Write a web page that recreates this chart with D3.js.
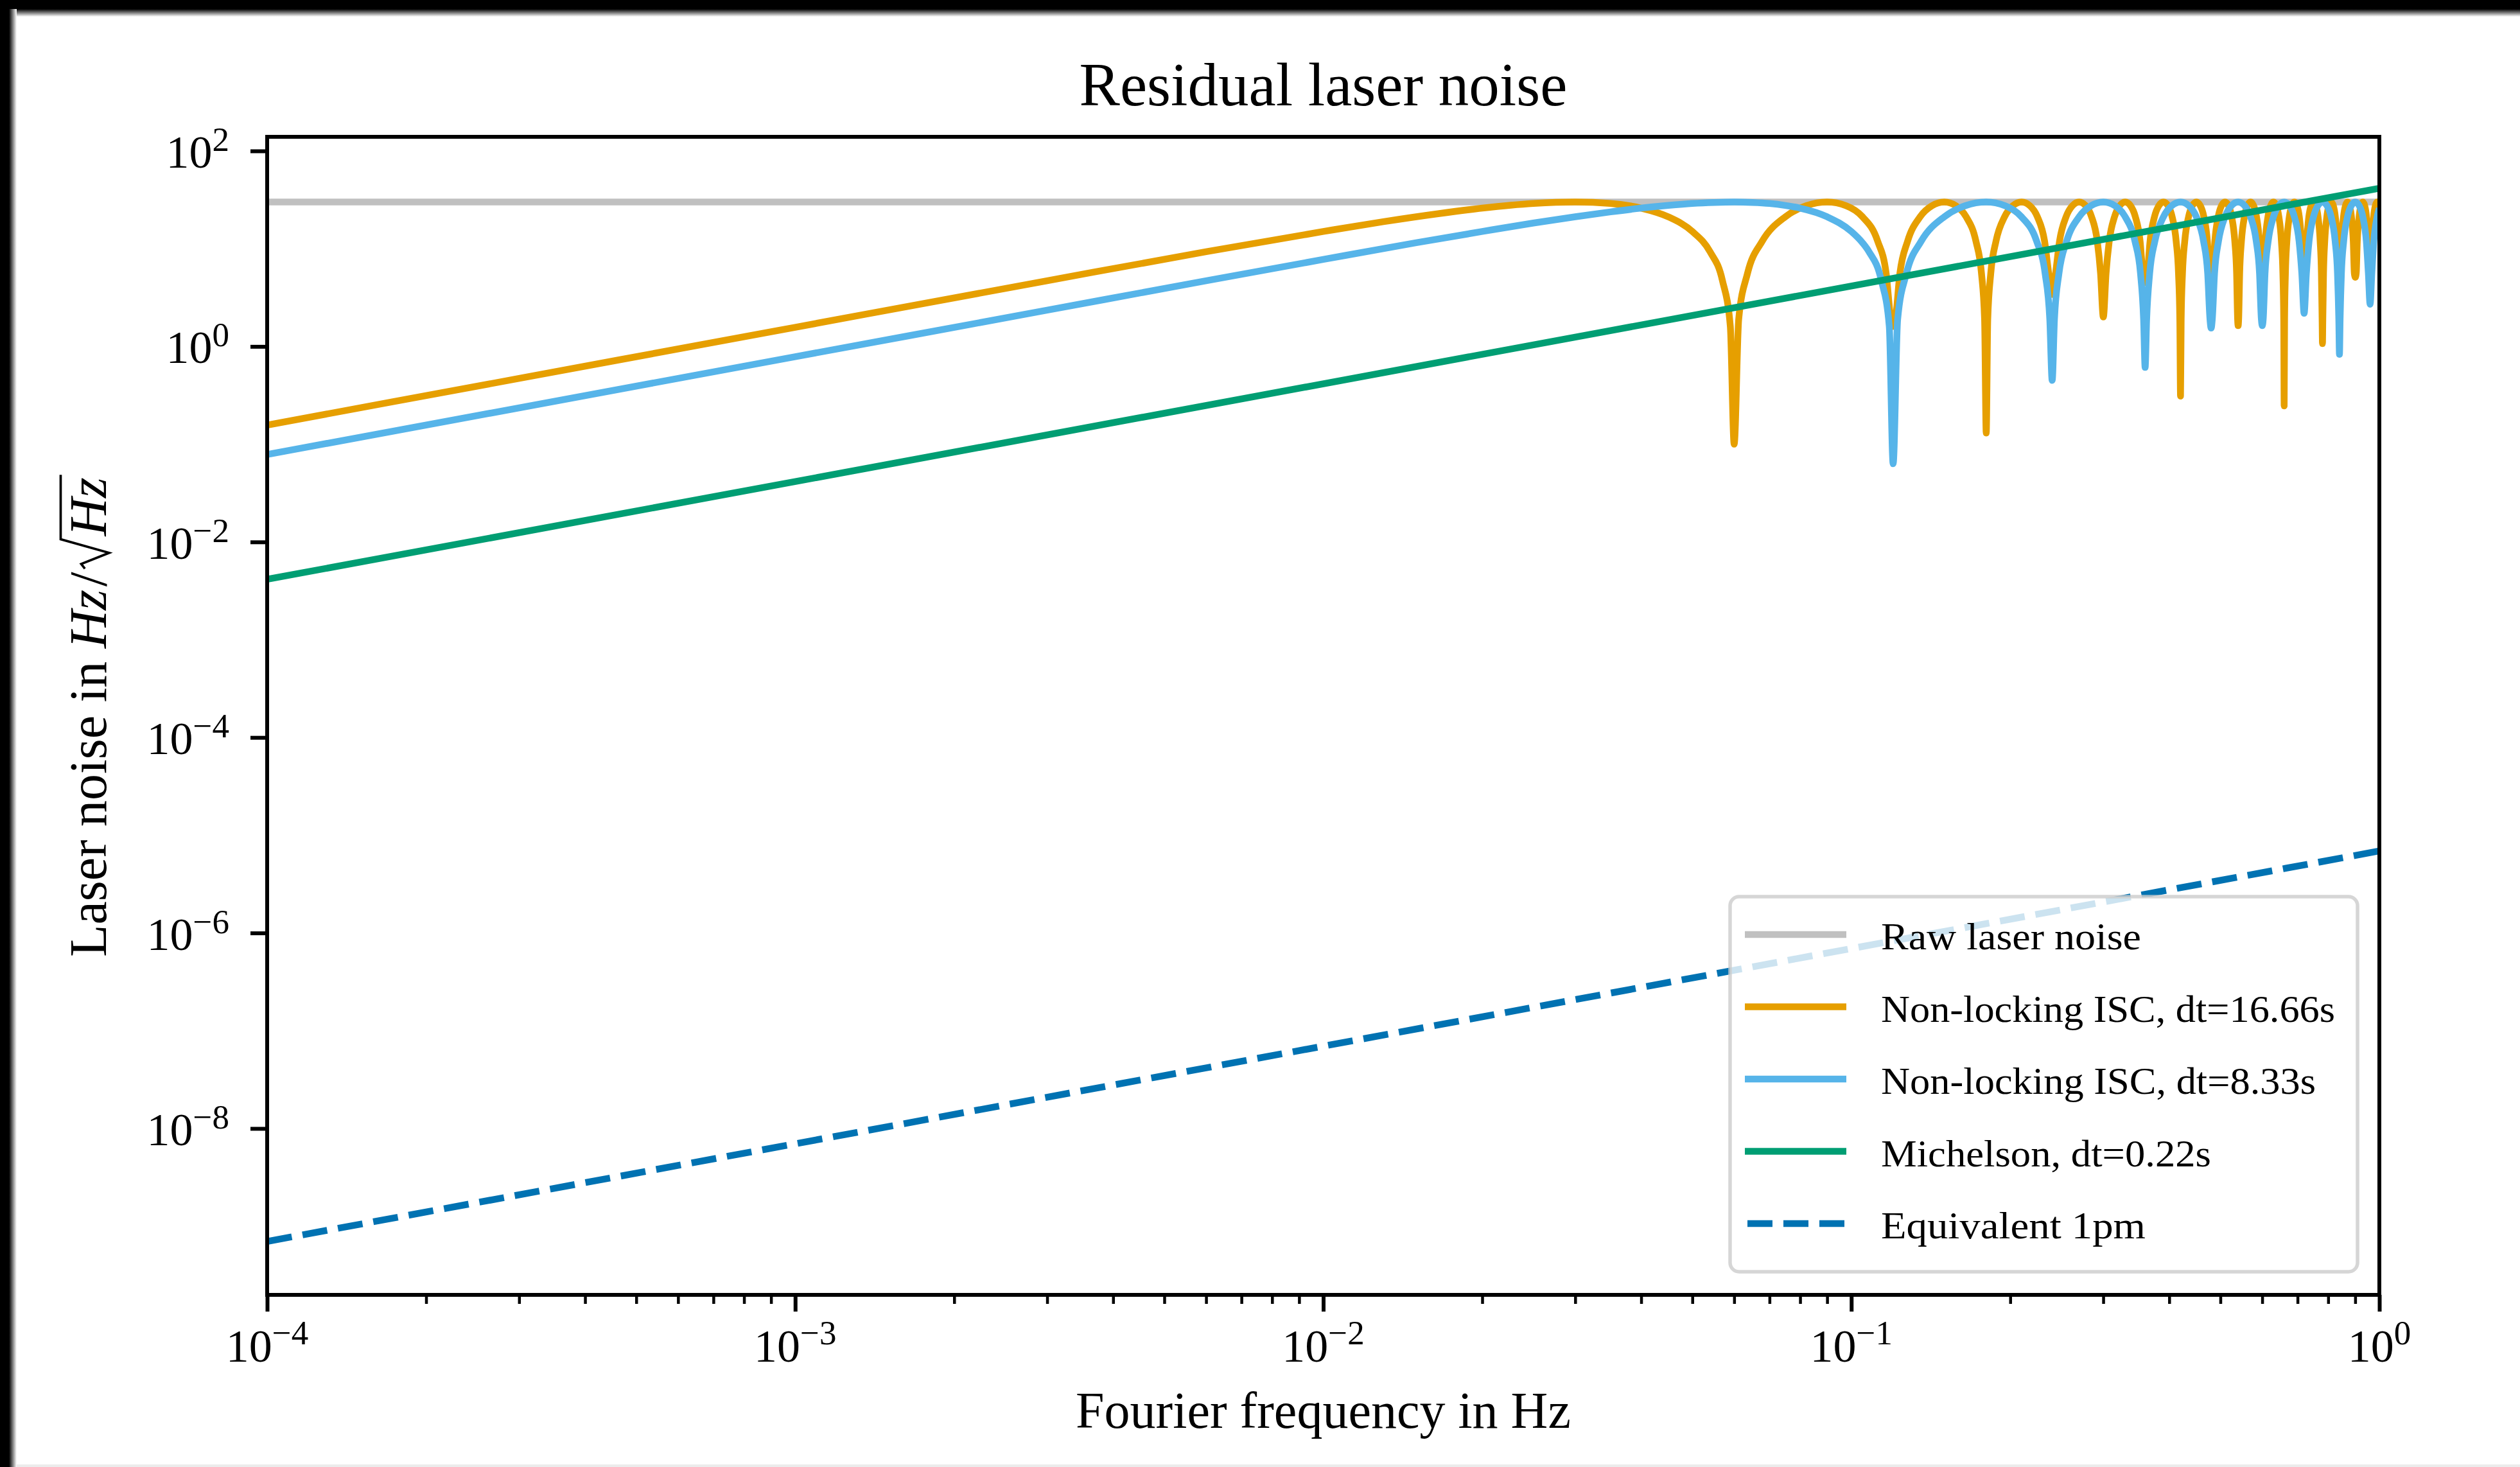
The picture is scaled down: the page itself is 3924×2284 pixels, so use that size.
<!DOCTYPE html>
<html>
<head>
<meta charset="utf-8">
<script src="https://cdn.jsdelivr.net/npm/d3@7"></script>
<style>
html,body{margin:0;padding:0;background:#ffffff;}
svg{display:block;}
</style>
</head>
<body>
<script>
// ---------------- data ----------------
const chartTitle = "Residual laser noise";
const xAxisLabel = "Fourier frequency in Hz";
const yAxisLabelPrefix = "Laser noise in";
const yAxisUnit = "Hz";

const xTickValues = [1e-4, 1e-3, 1e-2, 1e-1, 1];
const xTickExponents = ["\u22124", "\u22123", "\u22122", "\u22121", "0"];
const yTickValues = [1e2, 1e0, 1e-2, 1e-4, 1e-6, 1e-8];
const yTickExponents = ["2", "0", "\u22122", "\u22124", "\u22126", "\u22128"];

const seriesNames = [
  "Raw laser noise",
  "Non-locking ISC, dt=16.66s",
  "Non-locking ISC, dt=8.33s",
  "Michelson, dt=0.22s",
  "Equivalent 1pm"
];

// [frequency Hz, noise Hz/sqrt(Hz)]
const rawLaserNoise = [[1e-4, 30], [1, 30]];
const michelson022 = [[1e-4, 0.00415], [1, 41.5]];
const equivalent1pm = [[1e-4, 7.0e-10], [1, 6.9e-6]];

const isc1666 = [
  [1e-4,0.157],[3e-4,0.471],[1e-3,1.57],[3e-3,4.70],[6e-3,9.32],[0.01,15.0],[0.013,18.9],[0.0165,22.8],[0.02,26.0],[0.025,29.0],[0.03,30.0],[0.035,29.0],[0.04,26.0],[0.045,21.2],[0.05,15.0],[0.054,9.32],[0.057,4.73],[0.059,1.61],[0.0600,0.10],
  [0.0612,1.9],[0.0636,5.6],[0.0678,11.9],[0.0750,21.2],[0.0822,27.5],[0.0900,30],[0.0978,27.5],[0.1050,21.2],[0.1122,11.9],[0.1164,5.6],[0.1188,1.9],[0.1200,1.6],
  [0.1212,1.9],[0.1236,5.6],[0.1278,11.9],[0.1350,21.2],[0.1422,27.5],[0.1500,30],[0.1578,27.5],[0.1650,21.2],[0.1722,11.9],[0.1764,5.6],[0.1788,1.9],[0.1801,0.13],
  [0.1813,1.9],[0.1837,5.6],[0.1879,11.9],[0.1951,21.2],[0.2023,27.5],[0.2101,30],[0.2179,27.5],[0.2251,21.2],[0.2323,11.9],[0.2365,5.6],[0.2401,3.4],
  [0.2437,5.6],[0.2479,11.9],[0.2551,21.2],[0.2623,27.5],[0.2701,30],[0.2779,27.5],[0.2851,21.2],[0.2923,11.9],[0.2965,5.6],[0.3001,2.0],
  [0.3037,5.6],[0.3079,11.9],[0.3151,21.2],[0.3223,27.5],[0.3301,30],[0.3379,27.5],[0.3451,21.2],[0.3523,11.9],[0.3565,5.6],[0.3601,4.5],
  [0.3637,5.6],[0.3679,11.9],[0.3751,21.2],[0.3823,27.5],[0.3901,30],[0.3979,27.5],[0.4051,21.2],[0.4123,11.9],[0.4165,5.6],[0.4189,1.9],[0.4202,0.31],
  [0.4214,1.9],[0.4238,5.6],[0.4280,11.9],[0.4352,21.2],[0.4424,27.5],[0.4502,30],[0.4580,27.5],[0.4652,21.2],[0.4724,11.9],[0.4766,5.6],[0.4802,5.0],
  [0.4838,5.6],[0.4880,11.9],[0.4952,21.2],[0.5024,27.5],[0.5102,30],[0.5180,27.5],[0.5252,21.2],[0.5324,11.9],[0.5366,5.6],[0.5390,1.9],[0.5402,1.63],
  [0.5414,1.9],[0.5438,5.6],[0.5480,11.9],[0.5552,21.2],[0.5624,27.5],[0.5702,30],[0.5780,27.5],[0.5852,21.2],[0.5924,11.9],[0.5966,5.6],[0.6002,5.0],
  [0.6038,5.6],[0.6080,11.9],[0.6152,21.2],[0.6224,27.5],[0.6302,30],[0.6380,27.5],[0.6452,21.2],[0.6524,11.9],[0.6566,5.6],[0.6590,1.9],[0.6603,0.246],
  [0.6615,1.9],[0.6639,5.6],[0.6681,11.9],[0.6753,21.2],[0.6825,27.5],[0.6903,30],[0.6981,27.5],[0.7053,21.2],[0.7125,11.9],[0.7203,6.0],
  [0.7281,11.9],[0.7353,21.2],[0.7425,27.5],[0.7503,30],[0.7581,27.5],[0.7653,21.2],[0.7725,11.9],[0.7767,5.6],[0.7791,1.9],[0.7803,1.07],
  [0.7815,1.9],[0.7839,5.6],[0.7881,11.9],[0.7953,21.2],[0.8025,27.5],[0.8103,30],[0.8181,27.5],[0.8253,21.2],[0.8325,11.9],[0.8367,5.6],[0.8403,5.0],
  [0.8439,5.6],[0.8481,11.9],[0.8553,21.2],[0.8625,27.5],[0.8703,30],[0.8781,27.5],[0.8853,21.2],[0.8925,11.9],[0.8967,5.6],[0.9004,5.1],
  [0.9040,5.6],[0.9082,11.9],[0.9154,21.2],[0.9226,27.5],[0.9304,30],[0.9382,27.5],[0.9454,21.2],[0.9526,11.9],[0.9568,5.6],[0.9604,5.0],
  [0.9640,5.6],[0.9682,11.9],[0.9754,21.2],[0.9826,27.5],[0.9904,30],[1.0,26.3]
];

const isc833 = [
  [1e-4,0.0785],[1e-3,0.785],[3e-3,2.35],[6e-3,4.70],[0.01,7.76],[0.015,11.5],[0.02,15.0],[0.025,18.3],[0.03,21.2],[0.035,23.8],[0.04,26.0],[0.045,27.7],[0.05,29.0],[0.055,29.7],[0.06,30],[0.065,29.7],[0.07,29.0],[0.075,27.7],[0.08,26.0],[0.09,21.2],[0.1,15.0],[0.105,11.5],[0.108,9.32],[0.114,4.73],[0.118,1.61],[0.1200,0.063],
  [0.1224,1.9],[0.1272,5.6],[0.1356,11.9],[0.1500,21.2],[0.1644,27.5],[0.1800,30],[0.1956,27.5],[0.2100,21.2],[0.2244,11.9],[0.2328,5.6],[0.2376,1.9],[0.2401,0.45],
  [0.2425,1.9],[0.2473,5.6],[0.2557,11.9],[0.2701,21.2],[0.2845,27.5],[0.3001,30],[0.3157,27.5],[0.3301,21.2],[0.3445,11.9],[0.3529,5.6],[0.3577,1.9],[0.3601,0.61],
  [0.3625,1.9],[0.3673,5.6],[0.3757,11.9],[0.3901,21.2],[0.4045,27.5],[0.4202,30],[0.4358,27.5],[0.4502,21.2],[0.4646,11.9],[0.4730,5.6],[0.4778,1.9],[0.4802,1.54],
  [0.4826,1.9],[0.4874,5.6],[0.4958,11.9],[0.5102,21.2],[0.5246,27.5],[0.5402,30],[0.5558,27.5],[0.5702,21.2],[0.5846,11.9],[0.5930,5.6],[0.5978,1.9],[0.6002,1.63],
  [0.6026,1.9],[0.6074,5.6],[0.6158,11.9],[0.6302,21.2],[0.6446,27.5],[0.6603,30],[0.6759,27.5],[0.6903,21.2],[0.7047,11.9],[0.7131,5.6],[0.7203,2.18],
  [0.7275,5.6],[0.7359,11.9],[0.7503,21.2],[0.7647,27.5],[0.7803,30],[0.7959,27.5],[0.8103,21.2],[0.8247,11.9],[0.8331,5.6],[0.8379,1.9],[0.8403,0.83],
  [0.8427,1.9],[0.8475,5.6],[0.8559,11.9],[0.8703,21.2],[0.8847,27.5],[0.9004,30],[0.9160,27.5],[0.9304,21.2],[0.9448,11.9],[0.9532,5.6],[0.9604,2.7],
  [0.9676,5.6],[0.9760,11.9],[0.9904,21.2],[1.0,25.9]
];

// ---------------- styles / layout ----------------
const W = 3924, H = 2284;
const plot = {left: 416, right: 3705, top: 213, bottom: 2016};
const FONT = "'Liberation Serif', 'Times New Roman', serif";
const seriesStyle = [
  {data: rawLaserNoise, color: "#c0c0c0", dash: null, smooth: false},
  {data: isc1666, color: "#E69F00", dash: null, smooth: true},
  {data: isc833, color: "#56B4E9", dash: null, smooth: true},
  {data: michelson022, color: "#009E73", dash: null, smooth: false},
  {data: equivalent1pm, color: "#0072B2", dash: "39,17", smooth: false}
];
const lineWidth = 10.5;
const legendTextWidths = [405, 707, 677, 514, 412];

// ---------------- drawing ----------------
const svg = d3.select("body").append("svg")
  .attr("width", W).attr("height", H)
  .attr("viewBox", `0 0 ${W} ${H}`);

svg.append("rect").attr("width", W).attr("height", H).attr("fill", "#ffffff");

// screenshot frame (black band top & left with soft edge)
const defs = svg.append("defs");
const gT = defs.append("linearGradient").attr("id", "gT").attr("x1", 0).attr("y1", 0).attr("x2", 0).attr("y2", 1);
gT.append("stop").attr("offset", "0").attr("stop-color", "#000");
gT.append("stop").attr("offset", "1").attr("stop-color", "#fff");
const gL = defs.append("linearGradient").attr("id", "gL").attr("x1", 0).attr("y1", 0).attr("x2", 1).attr("y2", 0);
gL.append("stop").attr("offset", "0").attr("stop-color", "#000");
gL.append("stop").attr("offset", "1").attr("stop-color", "#fff");
svg.append("rect").attr("x", 0).attr("y", 14).attr("width", W).attr("height", 12).attr("fill", "url(#gT)");
svg.append("rect").attr("x", 14).attr("y", 0).attr("width", 12).attr("height", H).attr("fill", "url(#gL)");
svg.append("rect").attr("x", 0).attr("y", 0).attr("width", W).attr("height", 14).attr("fill", "#000");
svg.append("rect").attr("x", 0).attr("y", 0).attr("width", 14).attr("height", H).attr("fill", "#000");
svg.append("rect").attr("x", 26).attr("y", H - 4).attr("width", W - 26).attr("height", 4).attr("fill", "#ececec");

defs.append("clipPath").attr("id", "plotClip").append("rect")
  .attr("x", plot.left).attr("y", plot.top)
  .attr("width", plot.right - plot.left).attr("height", plot.bottom - plot.top);

const x = d3.scaleLog().domain([1e-4, 1]).range([plot.left, plot.right]);
const y = d3.scaleLog().domain([Math.pow(10, -9.702), Math.pow(10, 2.1445)]).range([plot.bottom, plot.top]);

// lines
const linesG = svg.append("g").attr("clip-path", "url(#plotClip)");
seriesStyle.forEach(s => {
  const gen = d3.line().x(d => x(d[0])).y(d => y(d[1]))
    .curve(s.smooth ? d3.curveMonotoneX : d3.curveLinear);
  const p = linesG.append("path").datum(s.data)
    .attr("d", gen)
    .attr("fill", "none")
    .attr("stroke", s.color)
    .attr("stroke-width", lineWidth)
    .attr("stroke-linejoin", "round")
    .attr("stroke-linecap", "butt");
  if (s.dash) p.attr("stroke-dasharray", s.dash);
});

// x axis: minor ticks
const isMajor = v => Math.abs(Math.log10(v) - Math.round(Math.log10(v))) < 1e-9;
const minorX = x.ticks().filter(v => !isMajor(v));
svg.append("g").attr("transform", `translate(0,${plot.bottom})`)
  .call(d3.axisBottom(x).tickValues(minorX).tickSize(14).tickFormat(() => ""))
  .call(g => g.select(".domain").remove())
  .call(g => g.selectAll(".tick line").attr("stroke", "#000").attr("stroke-width", 4.5));

// x axis: major ticks
svg.append("g").attr("transform", `translate(0,${plot.bottom})`)
  .call(d3.axisBottom(x).tickValues(xTickValues).tickSize(26).tickFormat(() => ""))
  .call(g => g.select(".domain").remove())
  .call(g => g.selectAll(".tick line").attr("stroke", "#000").attr("stroke-width", 6));

xTickValues.forEach((v, i) => {
  const t = svg.append("text")
    .attr("x", x(v)).attr("y", plot.bottom + 104)
    .attr("text-anchor", "middle")
    .attr("font-family", FONT).attr("font-size", 72).attr("fill", "#000");
  t.append("tspan").text("10");
  t.append("tspan").attr("dy", -27).attr("font-size", 53).text(xTickExponents[i]);
});

// y axis: major ticks
svg.append("g").attr("transform", `translate(${plot.left},0)`)
  .call(d3.axisLeft(y).tickValues(yTickValues).tickSize(26).tickFormat(() => ""))
  .call(g => g.select(".domain").remove())
  .call(g => g.selectAll(".tick line").attr("stroke", "#000").attr("stroke-width", 6));

yTickValues.forEach((v, i) => {
  const t = svg.append("text")
    .attr("x", 357).attr("y", y(v) + 26)
    .attr("text-anchor", "end")
    .attr("font-family", FONT).attr("font-size", 72).attr("fill", "#000");
  t.append("tspan").text("10");
  t.append("tspan").attr("dy", -26).attr("font-size", 53).text(yTickExponents[i]);
});

// spines
svg.append("rect")
  .attr("x", plot.left).attr("y", plot.top)
  .attr("width", plot.right - plot.left).attr("height", plot.bottom - plot.top)
  .attr("fill", "none").attr("stroke", "#000").attr("stroke-width", 6);

// title
svg.append("text")
  .attr("x", (plot.left + plot.right) / 2).attr("y", 164)
  .attr("text-anchor", "middle")
  .attr("font-family", FONT).attr("font-size", 95).attr("fill", "#000")
  .text(chartTitle);

// x label
svg.append("text")
  .attr("x", (plot.left + plot.right) / 2).attr("y", 2223)
  .attr("text-anchor", "middle")
  .attr("font-family", FONT).attr("font-size", 80).attr("fill", "#000")
  .text(xAxisLabel);

// y label (rotated) with Hz/sqrt(Hz)
(function () {
  const F = 82;
  const g = svg.append("g").attr("transform", `translate(165,${(plot.top + plot.bottom) / 2}) rotate(-90)`);
  const mk = (txt, italic) => g.append("text").text(txt)
    .attr("font-family", FONT).attr("font-size", F).attr("fill", "#000")
    .attr("font-style", italic ? "italic" : "normal");
  const p1 = mk(yAxisLabelPrefix, false);
  const p2 = mk(yAxisUnit, true);
  const p3 = mk("/", false);
  const p4 = mk(yAxisUnit, true);
  const w1 = p1.node().getComputedTextLength();
  const w2 = p2.node().getComputedTextLength();
  const w3 = p3.node().getComputedTextLength();
  const w4 = p4.node().getComputedTextLength();
  const sp = 0.25 * F, gap = 0.06 * F, radW = 0.62 * F;
  const total = w1 + sp + w2 + gap + w3 + gap + radW + w4 + 0.05 * F;
  let cx = -total / 2;
  p1.attr("x", cx); cx += w1 + sp;
  p2.attr("x", cx); cx += w2 + gap;
  p3.attr("x", cx); cx += w3 + gap;
  const rx = cx;
  const top = -0.86 * F;
  g.append("path")
    .attr("d", `M${rx},${-0.40 * F} L${rx + 0.09 * F},${-0.47 * F} L${rx + 0.30 * F},${0.06 * F} L${rx + 0.56 * F},${top} L${rx + radW + w4 + 0.05 * F},${top}`)
    .attr("fill", "none").attr("stroke", "#000").attr("stroke-width", 0.045 * F)
    .attr("stroke-linejoin", "miter");
  p4.attr("x", rx + radW);
})();

// legend
const lg = {x: 2694, y: 1396, w: 977, h: 584};
svg.append("rect")
  .attr("x", lg.x).attr("y", lg.y).attr("width", lg.w).attr("height", lg.h)
  .attr("rx", 14).attr("ry", 14)
  .attr("fill", "#ffffff").attr("fill-opacity", 0.8)
  .attr("stroke", "#cccccc").attr("stroke-opacity", 0.8).attr("stroke-width", 5.5);

seriesNames.forEach((name, i) => {
  const cy = 1455 + i * 112.5;
  const s = seriesStyle[i];
  const l = svg.append("line")
    .attr("x1", 2717).attr("x2", 2875).attr("y1", cy).attr("y2", cy)
    .attr("stroke", s.color).attr("stroke-width", lineWidth).attr("stroke-linecap", "butt");
  if (s.dash) l.attr("stroke-dasharray", s.dash).attr("stroke-dashoffset", -4);
  svg.append("text")
    .attr("x", 2929).attr("y", cy + 23)
    .attr("font-family", FONT).attr("font-size", 60).attr("fill", "#000")
    .attr("textLength", legendTextWidths[i]).attr("lengthAdjust", "spacingAndGlyphs")
    .text(name);
});
</script>
</body>
</html>
